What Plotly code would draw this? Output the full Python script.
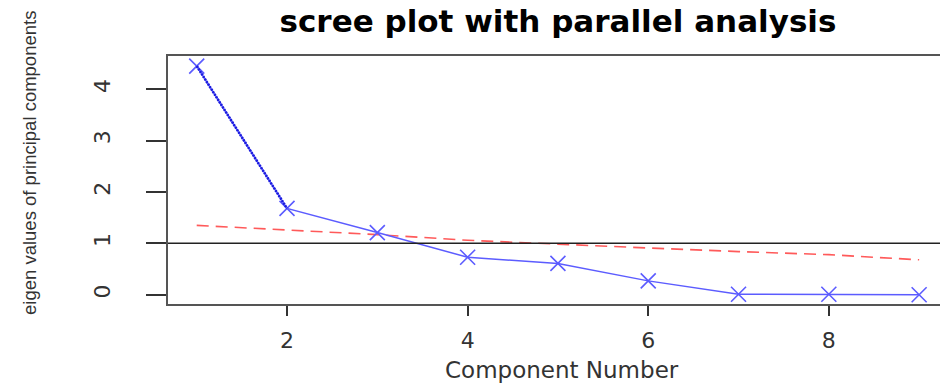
import plotly.graph_objects as go

# Data
components = [1, 2, 3, 4, 5, 6, 7, 8, 9]
pc_eigen = [4.45, 1.68, 1.21, 0.73, 0.61, 0.27, 0.01, 0.01, 0.0]
parallel_eigen = [1.35, 1.26, 1.17, 1.06, 0.98, 0.91, 0.84, 0.78, 0.68]
x_ticks = [2, 4, 6, 8]
y_ticks = [0, 1, 2, 3, 4]
kaiser_line = 1

W, H = 940, 386
ML, MR, MT, MB = 168, 0, 56, 82

fig = go.Figure()

# parallel analysis (red dashed)
fig.add_trace(go.Scatter(
    x=components, y=parallel_eigen, mode="lines",
    line=dict(color="#ff5a5a", width=1.6, dash="12px,7px"),
    showlegend=False, hoverinfo="skip"))

# principal components (blue, type "b")
fig.add_trace(go.Scatter(
    x=components, y=pc_eigen, mode="lines+markers",
    line=dict(color="#5c5cff", width=1.5),
    marker=dict(symbol="x-thin-open", size=15,
                line=dict(color="#5c5cff", width=1.6), color="#5c5cff"),
    showlegend=False))

# darker first segment
fig.add_trace(go.Scatter(
    x=components[:2], y=pc_eigen[:2], mode="lines",
    line=dict(color="#1a1add", width=2.6, dash="2px,1px"),
    showlegend=False, hoverinfo="skip"))

fig.add_hline(y=kaiser_line, line=dict(color="#222222", width=1.5))

plot_h = H - MT - MB
plot_w = W - ML - MR


def px_to_paper_x(px):
    return (px - ML) / plot_w


def px_to_paper_y(py):
    return (H - MB - py) / plot_h


fig.add_annotation(text="Component Number", xref="paper", yref="paper",
                   x=px_to_paper_x(562), y=px_to_paper_y(370),
                   xanchor="center", yanchor="middle", showarrow=False,
                   font=dict(family="DejaVu Sans", size=23, color="#333333"))
fig.add_annotation(text="eigen values of principal components", xref="paper", yref="paper",
                   x=px_to_paper_x(29), y=px_to_paper_y(163), textangle=-90,
                   xanchor="center", yanchor="middle", showarrow=False,
                   font=dict(family="Liberation Sans", size=18.5, color="#333333"))

fig.update_layout(
    width=W, height=H,
    margin=dict(l=ML, r=MR, t=MT, b=MB),
    paper_bgcolor="white", plot_bgcolor="white",
    title=dict(text="<b>scree plot with parallel analysis</b>",
               x=558 / W, xanchor="center", y=1 - 21 / H, yanchor="middle",
               yref="container",
               font=dict(family="DejaVu Sans", size=31, color="#000000")),
    xaxis=dict(range=[0.682, 9.231], tickvals=x_ticks, automargin=False,
               showgrid=False, zeroline=False,
               showline=True, linecolor="#555555", linewidth=1.6, mirror=True,
               ticks="outside", ticklen=10, tickwidth=1.6, tickcolor="#333333",
               ticklabelstandoff=6,
               tickfont=dict(family="DejaVu Sans", size=22, color="#333333")),
    yaxis=dict(range=[-0.18, 4.646], tickvals=y_ticks, tickangle=-90, automargin=False,
               showgrid=False, zeroline=False,
               showline=True, linecolor="#555555", linewidth=1.6, mirror=False,
               ticks="outside", ticklen=20, tickwidth=1.6, tickcolor="#333333",
               ticklabelstandoff=27,
               tickfont=dict(family="DejaVu Sans", size=22, color="#333333")),
)

fig.write_html("out.html",
               config={"displayModeBar": False},
               post_script="document.body.style.margin='0';document.body.style.overflow='hidden';")
